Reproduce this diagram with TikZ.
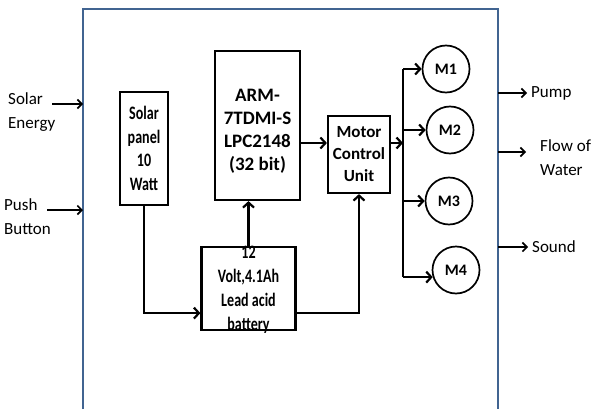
\documentclass[tikz,border=0pt]{standalone}
\usepackage{fontspec}
\setmainfont{Carlito}
\newfontfamily\narrowfont{Carlito}[FakeStretch=0.74]
\usepackage{tikz}
\usetikzlibrary{positioning,arrows.meta}
\definecolor{framecol}{RGB}{65,100,145}

\begin{document}
\begin{tikzpicture}[x=1pt, y=-1pt,
  box/.style={draw, line width=2.2pt, inner sep=0pt, align=center},
  boxtext/.style={align=center, font=\bfseries\fontsize{19}{23}\selectfont},
  narrowtext/.style={align=center, font=\narrowfont\bfseries\fontsize{19}{23.5}\selectfont},
  motor/.style={draw, circle, line width=1.7pt, minimum size=47pt, inner sep=0pt, font=\bfseries\fontsize{16}{18}\selectfont},
  lbl/.style={align=left, inner sep=0pt, font=\fontsize{17}{24}\selectfont},
  arr/.style={-{Straight Barb[length=5pt,width=11pt]}, line width=2.2pt},
  inarr/.style={-{Straight Barb[length=4.5pt,width=9pt]}, line width=1.6pt}
]
  \useasboundingbox (0,0) rectangle (593,409);
  % outer frame
  \coordinate (fl) at (83,9);
  \coordinate (fr) at (498,9);
  \draw[framecol, line width=2.4pt] (83,409) -- (fl) -- (fr) -- (498,409);

  % blocks
  \node[box, narrowtext, minimum width=48pt, minimum height=113pt] (panel) at (144,148.5) {Solar\\panel\\10\\Watt};
  \node[box, minimum width=85pt, minimum height=149pt] (arm) at (257.5,125.5) {};
  \node[boxtext] (armtxt) at (257.5,131) {ARM-\\7TDMI-S\\LPC2148\\(32 bit)};
  \node[box, minimum width=94pt, minimum height=83pt] (batt) at (248.5,288.5) {};
  \node[narrowtext, font=\narrowfont\bfseries\fontsize{19}{24}\selectfont] (batttxt) at (248.5,290) {12\\Volt,4.1Ah\\Lead acid\\battery};
  \node[box, boxtext, font=\bfseries\fontsize{17}{22}\selectfont, minimum width=62pt, minimum height=77pt] (mcu) at (359,154.5) {Motor\\Control\\Unit};

  % motors
  \node[motor] (m1) at (446,69) {M1};
  \node[motor] (m2) at (450,130) {M2};
  \node[motor] (m3) at (449,201) {M3};
  \node[motor] (m4) at (456,270) {M4};

  % inputs and outputs
  \node[lbl, anchor=west] (solar) at (8,112) {Solar\\Energy};
  \node[lbl, anchor=west] (push) at (4,217) {Push\\Button};
  \node[lbl, anchor=west] (pump) at (531,93) {Pump};
  \node[lbl, anchor=west] (flow) at (540,158) {Flow of\\Water};
  \node[lbl, anchor=west] (sound) at (532,247) {Sound};
  \coordinate (solarfrom) at (52,104);
  \coordinate (pushfrom) at (47,210);
  \coordinate (flowto) at (526,152);
  \draw[inarr] (solarfrom) -- (solarfrom -| fl);
  \draw[inarr] (pushfrom) -- (pushfrom -| fl);
  \draw[inarr] (fr |- pump.west) -- ([xshift=-4pt]pump.west);
  \draw[inarr] (flowto -| fr) -- (flowto);
  \draw[inarr] (fr |- sound.west) -- ([xshift=-4pt]sound.west);

  % connections
  \coordinate (armout) at (300,143);
  \coordinate (bus) at (403,143);
  \coordinate (battin) at ([yshift=18pt]batt.south west);
  \coordinate (battout) at ([yshift=18pt]batt.south east);
  \draw[arr] (armout) -- (armout -| mcu.west);
  \draw[arr] (mcu.east |- bus) -- (bus);
  \draw[line width=2.2pt] (bus |- m1.west) -- (bus |- m4.197);
  \draw[arr] (bus |- m1.west) -- (m1.west);
  \draw[arr] (bus |- m2.west) -- (m2.west);
  \draw[arr] (bus |- m3.west) -- (m3.west);
  \draw[arr] (bus |- m4.197) -- (m4.197);
  \draw[arr] (batt.north) -- (batt.north |- arm.south);
  \draw[arr] (panel.south) |- (battin);
  \draw[arr] (battout) -| (mcu.south);
\end{tikzpicture}
\end{document}
